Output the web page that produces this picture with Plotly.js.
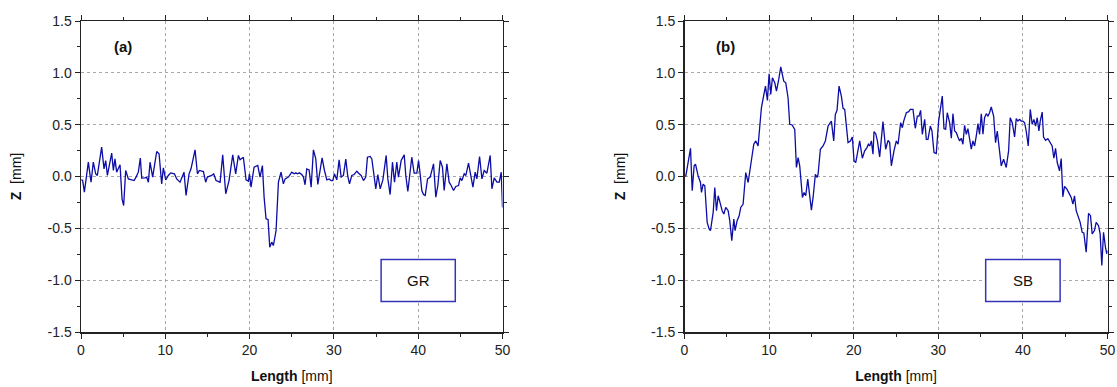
<!DOCTYPE html>
<html>
<head>
<meta charset="utf-8">
<script src="https://cdn.plot.ly/plotly-3.0.1.min.js"></script>
<style>html,body{margin:0;padding:0;background:#fff;}#chart{width:1117px;height:387px;}</style>
</head>
<body>
<div id="chart"></div>
<script>
// ---- Data: panel (a) GR profile ----
const grX = [0.05,0.2,0.4,0.87,1.19,1.46,1.74,1.94,2.45,2.73,2.93,3.13,3.64,3.84,4.03,4.23,4.63,4.87,5.06,5.3,5.62,6.01,6.29,6.53,6.8,7.04,7.2,7.59,7.79,7.99,8.19,8.5,8.98,9.26,9.57,9.77,10.05,10.36,10.64,11.08,11.35,11.75,12.22,12.46,12.82,13.05,13.53,13.81,14.04,14.52,14.79,14.99,15.23,15.51,15.74,16.02,16.5,16.81,17.17,17.56,18.0,18.35,18.67,18.87,19.26,19.58,19.86,19.98,20.17,20.53,20.97,21.24,21.52,21.72,21.95,22.19,22.39,22.63,22.82,23.14,23.42,23.73,24.01,24.21,24.61,25.0,25.28,25.48,25.67,25.91,26.19,26.39,26.58,26.78,27.06,27.3,27.57,27.85,28.09,28.37,28.6,28.88,29.16,29.43,29.67,29.87,30.06,30.34,30.62,30.86,31.13,31.41,31.65,31.85,32.12,32.4,32.72,32.99,33.23,33.51,33.78,33.98,34.3,34.5,34.7,34.97,35.21,35.49,35.81,36.2,36.4,36.67,36.95,37.19,37.46,37.66,37.98,38.34,38.53,38.77,39.24,39.52,39.84,40.04,40.23,40.43,40.63,40.83,41.11,41.42,41.82,42.09,42.33,42.61,42.88,43.08,43.4,43.67,43.91,44.19,44.46,44.78,44.98,45.18,45.46,45.65,45.97,46.25,46.49,46.76,46.96,47.28,47.56,47.83,48.15,48.54,48.74,49.02,49.34,49.61,49.85,50.0];
const grZ = [-0.03,-0.039,-0.151,0.138,-0.055,0.138,0.026,0.01,0.283,0.074,0.154,0.01,0.225,0.058,0.17,0.042,0.113,-0.215,-0.28,0.058,-0.023,-0.032,-0.039,-0.006,0.042,0.177,-0.016,-0.013,-0.006,-0.055,0.138,-0.006,0.241,0.219,-0.071,0.084,-0.032,0.01,0.035,0.026,-0.023,-0.055,0.042,-0.183,0.026,0.074,0.257,0.026,0.058,0.048,-0.055,-0.006,0.0,0.01,0.026,-0.039,-0.055,0.209,-0.167,-0.039,0.209,0.026,0.203,0.161,0.186,-0.032,-0.045,0.026,-0.103,0.09,0.106,-0.006,0.106,-0.199,-0.408,-0.415,-0.682,-0.633,-0.666,-0.521,-0.055,0.042,-0.071,-0.023,-0.006,0.042,0.026,0.035,0.026,0.035,0.019,-0.006,-0.08,0.074,0.064,-0.103,0.257,0.17,-0.077,0.09,0.18,0.058,-0.032,-0.023,-0.039,-0.039,0.026,-0.032,0.161,-0.006,0.01,0.167,0.0,-0.071,0.01,0.019,0.051,0.026,0.01,-0.039,-0.006,0.186,0.193,0.17,0.058,-0.119,0.019,-0.119,-0.032,0.203,-0.023,-0.174,0.138,-0.055,0.138,-0.006,0.154,0.209,0.01,-0.145,0.186,0.032,0.032,0.154,0.026,-0.135,-0.174,-0.183,-0.023,-0.006,0.122,-0.199,-0.087,0.154,0.09,-0.135,0.122,-0.055,-0.087,-0.135,-0.096,-0.087,-0.013,-0.039,0.026,0.01,0.129,-0.006,-0.103,0.042,-0.023,0.193,-0.023,0.058,0.032,0.203,-0.119,-0.013,-0.055,-0.055,0.042,-0.3];

// ---- Data: panel (b) SB profile ----
const sbX = [0.0,0.16,0.71,0.91,1.14,1.3,1.61,1.89,2.01,2.2,2.4,2.68,2.91,3.07,3.39,3.58,3.78,3.98,4.25,4.45,4.65,4.88,5.16,5.35,5.59,5.83,5.98,6.22,6.46,6.65,6.93,7.24,7.52,7.72,8.19,8.43,8.7,9.09,9.37,9.57,9.8,10.0,10.2,10.39,10.67,10.87,11.14,11.38,11.73,11.97,12.24,12.44,12.72,13.03,13.23,13.43,13.62,13.94,14.13,14.33,14.57,14.8,15.0,15.2,15.47,15.67,15.79,16.06,16.38,16.65,16.97,17.36,17.64,17.83,18.03,18.27,18.54,18.74,18.94,19.33,19.61,19.84,20.04,20.24,20.71,21.02,21.3,21.57,21.73,21.89,22.09,22.28,22.4,22.6,22.8,23.07,23.46,23.78,24.06,24.25,24.45,24.76,25.04,25.24,25.55,25.75,25.91,26.22,26.5,26.69,27.01,27.28,27.52,27.72,27.91,28.11,28.39,28.58,28.78,29.06,29.25,29.49,29.76,30.04,30.28,30.47,30.67,30.87,31.06,31.34,31.54,31.73,31.93,32.13,32.32,32.52,32.72,32.91,33.11,33.31,33.5,33.7,33.9,34.09,34.29,34.49,34.69,34.88,35.08,35.28,35.47,35.67,35.87,36.06,36.26,36.54,36.77,36.97,37.17,37.44,37.72,38.03,38.31,38.5,38.74,39.02,39.21,39.41,39.61,39.8,40.0,40.2,40.39,40.63,40.87,41.1,41.3,41.5,41.69,41.89,42.05,42.28,42.44,42.68,42.95,43.23,43.46,43.66,43.86,44.06,44.33,44.53,44.72,44.92,45.2,45.51,45.71,45.91,46.1,46.3,46.5,46.77,47.01,47.2,47.48,47.76,47.99,48.19,48.46,48.66,48.94,49.13,49.33,49.53,49.76,49.92,50.0];
const sbZ = [0.0,0.006,0.272,-0.138,0.103,0.119,0.006,-0.058,-0.154,-0.074,-0.09,-0.442,-0.506,-0.522,-0.346,-0.106,-0.33,-0.186,-0.266,-0.33,-0.362,-0.298,-0.33,-0.426,-0.619,-0.41,-0.522,-0.426,-0.378,-0.298,-0.266,0.038,-0.058,0.054,0.311,0.343,0.295,0.663,0.792,0.872,0.734,0.99,0.792,0.952,0.904,0.824,0.936,1.058,0.92,0.904,0.76,0.503,0.497,0.455,0.087,0.183,0.103,-0.202,-0.154,-0.186,-0.026,-0.218,-0.324,-0.202,0.022,-0.01,0.022,0.263,0.295,0.343,0.487,0.535,0.343,0.599,0.638,0.872,0.776,0.657,0.647,0.327,0.343,0.381,0.151,0.135,0.343,0.176,0.247,0.279,0.311,0.295,0.343,0.215,0.433,0.413,0.343,0.189,0.529,0.263,0.349,0.327,0.103,0.247,0.343,0.311,0.519,0.471,0.535,0.615,0.625,0.647,0.647,0.465,0.583,0.583,0.638,0.407,0.551,0.359,0.359,0.487,0.439,0.231,0.221,0.535,0.679,0.776,0.462,0.455,0.615,0.519,0.369,0.606,0.439,0.423,0.381,0.343,0.369,0.311,0.494,0.407,0.462,0.375,0.263,0.343,0.295,0.391,0.51,0.407,0.606,0.407,0.567,0.606,0.583,0.615,0.67,0.583,0.327,0.439,0.311,0.103,0.167,0.087,0.247,0.567,0.519,0.381,0.558,0.535,0.551,0.535,0.535,0.519,0.439,0.295,0.647,0.503,0.551,0.487,0.567,0.439,0.535,0.622,0.381,0.349,0.365,0.327,0.295,0.176,0.272,0.135,0.054,0.173,-0.196,-0.096,-0.122,-0.17,-0.202,-0.266,-0.186,-0.33,-0.378,-0.442,-0.538,-0.545,-0.731,-0.356,-0.378,-0.554,-0.522,-0.442,-0.474,-0.554,-0.859,-0.538,-0.683,-0.747,-0.715];

// ---- Tick labels ----
const xTickVals = [0, 10, 20, 30, 40, 50];
const xTickText = ["0", "10", "20", "30", "40", "50"];
const yTickVals = [-1.5, -1.0, -0.5, 0.0, 0.5, 1.0, 1.5];
const yTickText = ["-1.5", "-1.0", "-0.5", "0.0", "0.5", "1.0", "1.5"];
const panelLabels = ["(a)", "(b)"];
const boxLabels = ["GR", "SB"];

const W = 1117, H = 387;
const lineColor = "#0c0ca6";
const boxColor = "#3434b8";
const font = "Liberation Sans, Arial, sans-serif";

function xAxis(domain) {
  return {
    domain: domain, range: [0, 50], tickmode: "array", tickvals: xTickVals, ticktext: xTickText,
    ticks: "outside", ticklen: 5, tickwidth: 1, tickcolor: "#222",
    minor: {dtick: 5, tick0: 0, ticks: "outside", ticklen: 3, tickcolor: "#222", showgrid: false},
    showline: true, linecolor: "#222", linewidth: 1.5, mirror: "allticks",
    showgrid: true, gridcolor: "#a8a8a8", griddash: "dot", gridwidth: 1, zeroline: false,
    tickfont: {family: font, size: 14, color: "#222"},
    title: {text: "<b>Length</b> [mm]", font: {family: font, size: 14, color: "#111"}, standoff: 14},
    automargin: false, fixedrange: true
  };
}
function yAxis(anchor) {
  return {
    domain: [1 - 332 / H, 1 - 21 / H], range: [-1.5, 1.5], anchor: anchor,
    tickmode: "array", tickvals: yTickVals, ticktext: yTickText,
    ticks: "outside", ticklen: 5, tickwidth: 1, tickcolor: "#222",
    minor: {dtick: 0.25, tick0: 0, ticks: "outside", ticklen: 3, tickcolor: "#222", showgrid: false},
    showline: true, linecolor: "#222", linewidth: 1.5, mirror: "allticks",
    showgrid: true, gridcolor: "#a8a8a8", griddash: "dot", gridwidth: 1, zeroline: false,
    tickfont: {family: font, size: 14, color: "#222"},
    title: {text: "<b>Z</b>  [mm]", font: {family: font, size: 14, color: "#111"}, standoff: 22},
    automargin: false, fixedrange: true
  };
}

const traces = [
  {x: grX, y: grZ, xaxis: "x", yaxis: "y", type: "scatter", mode: "lines", line: {color: lineColor, width: 1.3}, hoverinfo: "skip"},
  {x: sbX, y: sbZ, xaxis: "x2", yaxis: "y2", type: "scatter", mode: "lines", line: {color: lineColor, width: 1.3}, hoverinfo: "skip"}
];

const layout = {
  width: W, height: H, margin: {l: 0, r: 0, t: 0, b: 0},
  paper_bgcolor: "#fff", plot_bgcolor: "#fff", showlegend: false,
  xaxis: Object.assign(xAxis([81 / W, 502.5 / W]), {anchor: "y"}),
  yaxis: yAxis("x"),
  xaxis2: Object.assign(xAxis([684.5 / W, 1107.5 / W]), {anchor: "y2"}),
  yaxis2: yAxis("x2"),
  shapes: [
    {type: "rect", xref: "x", yref: "y", x0: 35.6, x1: 44.4, y0: -1.205, y1: -0.8, line: {color: boxColor, width: 1.5}, fillcolor: "#fff", layer: "above"},
    {type: "rect", xref: "x2", yref: "y2", x0: 35.6, x1: 44.4, y0: -1.205, y1: -0.8, line: {color: boxColor, width: 1.5}, fillcolor: "#fff", layer: "above"}
  ],
  annotations: [
    {xref: "x", yref: "y", x: 5.0, y: 1.25, text: "<b>" + panelLabels[0] + "</b>", showarrow: false, font: {family: font, size: 15, color: "#111"}},
    {xref: "x2", yref: "y2", x: 4.8, y: 1.25, text: "<b>" + panelLabels[1] + "</b>", showarrow: false, font: {family: font, size: 15, color: "#111"}},
    {xref: "x", yref: "y", x: 40, y: -1.0, text: boxLabels[0], showarrow: false, font: {family: font, size: 15, color: "#111"}},
    {xref: "x2", yref: "y2", x: 40, y: -1.0, text: boxLabels[1], showarrow: false, font: {family: font, size: 15, color: "#111"}}
  ]
};

Plotly.newPlot("chart", traces, layout, {displayModeBar: false, staticPlot: true});
</script>
</body>
</html>
